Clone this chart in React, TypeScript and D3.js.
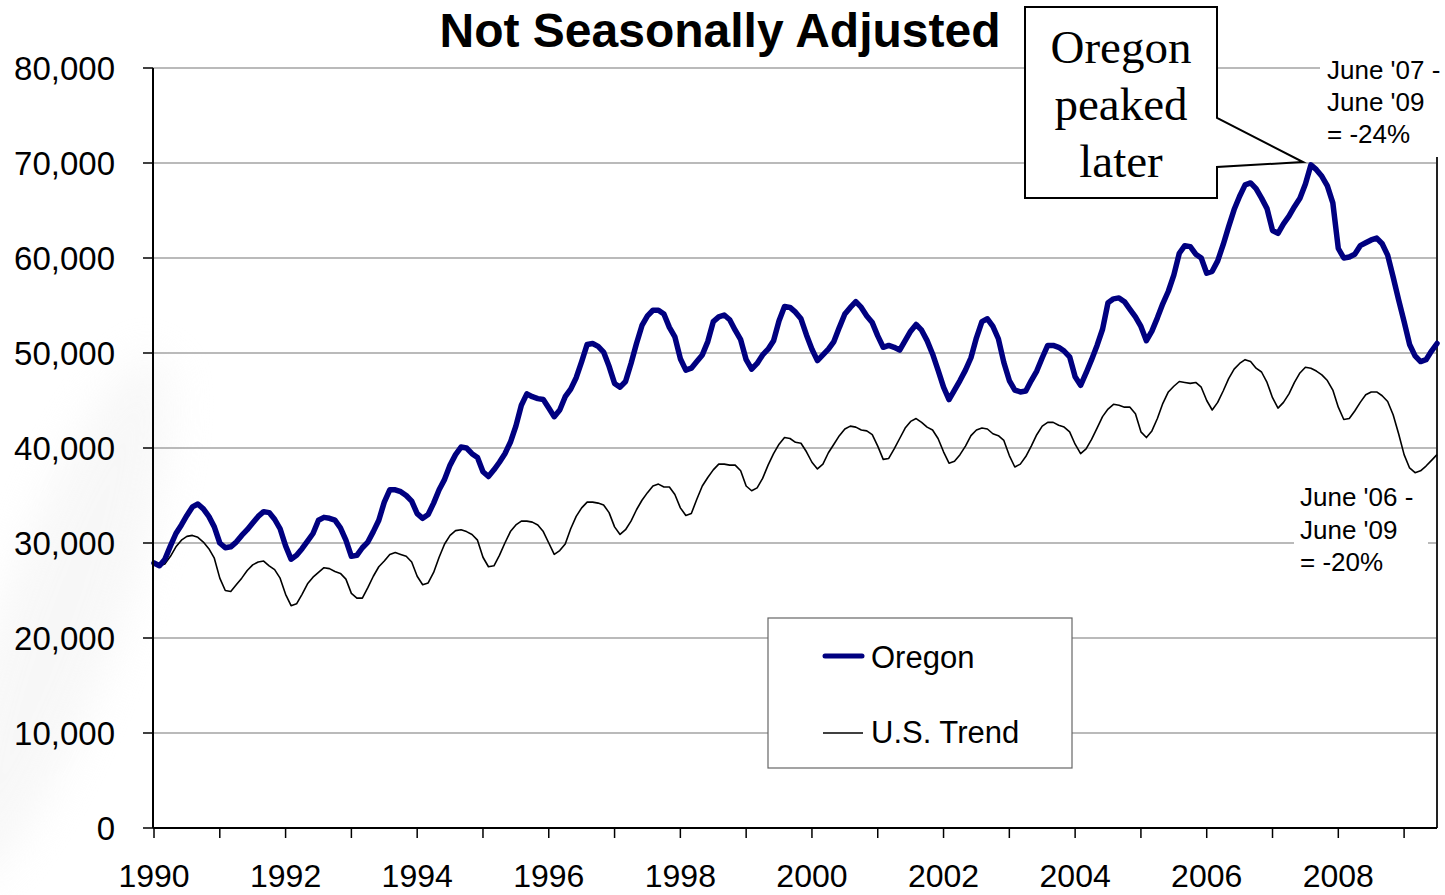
import React from "react";
import * as d3 from "d3";

// Monthly employment, thousands, Jan 1990 – Jul 2009
const oregon: number[] = [
  27.9, 27.6, 28.3, 29.7, 31.0, 31.9, 32.9, 33.8, 34.1, 33.6, 32.8, 31.7,
  30.0, 29.5, 29.6, 30.1, 30.8, 31.4, 32.1, 32.8, 33.3, 33.2, 32.5, 31.5,
  29.7, 28.3, 28.7, 29.4, 30.2, 31.0, 32.4, 32.7, 32.6, 32.4, 31.6, 30.3,
  28.6, 28.7, 29.5, 30.1, 31.2, 32.4, 34.3, 35.6, 35.6, 35.4, 35.0, 34.4,
  33.1, 32.6, 33.0, 34.2, 35.6, 36.7, 38.2, 39.3, 40.1, 40.0, 39.4, 39.0,
  37.5, 37.0, 37.7, 38.5, 39.4, 40.6, 42.3, 44.5, 45.7, 45.4, 45.2, 45.1,
  44.2, 43.3, 44.0, 45.4, 46.2, 47.4, 49.1, 50.9, 51.0, 50.7, 50.1, 48.6,
  46.8, 46.4, 47.0, 48.9, 51.0, 52.9, 53.9, 54.5, 54.5, 54.1, 52.7, 51.7,
  49.4, 48.2, 48.4, 49.1, 49.8, 51.2, 53.3, 53.8, 54.0, 53.5, 52.4, 51.4,
  49.3, 48.3, 48.9, 49.8, 50.4, 51.3, 53.4, 54.9, 54.8, 54.3, 53.6, 51.9,
  50.4, 49.2, 49.8, 50.4, 51.2, 52.7, 54.1, 54.8, 55.4, 54.8, 53.9, 53.2,
  51.8, 50.6, 50.8, 50.6, 50.3, 51.3, 52.3, 53.0, 52.4, 51.3, 49.9, 48.2,
  46.4, 45.1, 46.1, 47.1, 48.2, 49.5, 51.6, 53.3, 53.6, 52.8, 51.5, 49.0,
  47.1, 46.1, 45.9, 46.0, 47.1, 48.1, 49.5, 50.8, 50.8, 50.6, 50.2, 49.6,
  47.5, 46.6, 47.9, 49.3, 50.8, 52.5, 55.3, 55.7, 55.8, 55.4, 54.6, 53.8,
  52.8, 51.3, 52.3, 53.7, 55.2, 56.5, 58.2, 60.5, 61.3, 61.2, 60.4, 60.0,
  58.4, 58.6, 59.7, 61.4, 63.3, 65.1, 66.5, 67.7, 67.9, 67.3, 66.3, 65.2,
  62.9, 62.6, 63.6, 64.4, 65.4, 66.3, 67.8, 69.8, 69.3, 68.6, 67.6, 65.8,
  61.0, 60.0, 60.1, 60.4, 61.3, 61.6, 61.9, 62.1, 61.5, 60.3, 58.0, 55.6,
  53.3, 50.9, 49.7, 49.1, 49.3, 50.2, 51.0,
];

const usTrend: number[] = [
  27.9, 27.6, 27.8, 28.6, 29.6, 30.3, 30.7, 30.8, 30.6, 30.1, 29.4, 28.4,
  26.3, 25.0, 24.9, 25.6, 26.3, 27.1, 27.7, 28.0, 28.1, 27.6, 27.2, 26.3,
  24.6, 23.4, 23.6, 24.6, 25.7, 26.4, 26.9, 27.4, 27.3, 27.0, 26.8, 26.2,
  24.7, 24.2, 24.2, 25.3, 26.5, 27.5, 28.1, 28.8, 29.0, 28.8, 28.6, 28.0,
  26.5, 25.6, 25.8, 26.9, 28.5, 29.9, 30.8, 31.3, 31.4, 31.2, 30.9, 30.3,
  28.5, 27.5, 27.6, 28.7, 30.0, 31.2, 31.9, 32.3, 32.3, 32.2, 31.9, 31.2,
  30.0, 28.8, 29.2, 29.9, 31.5, 32.8, 33.7, 34.3, 34.3, 34.2, 34.0, 33.2,
  31.7, 30.9, 31.4, 32.3, 33.5, 34.5, 35.3, 36.0, 36.2, 35.9, 35.9, 35.1,
  33.7, 32.9, 33.1, 34.6, 36.0, 36.9, 37.7, 38.3, 38.3, 38.2, 38.2, 37.6,
  36.0, 35.5, 35.8, 36.8, 38.2, 39.4, 40.4, 41.1, 41.0, 40.6, 40.5, 39.6,
  38.5, 37.8, 38.3, 39.5, 40.4, 41.3, 42.0, 42.3, 42.2, 41.9, 41.8, 41.4,
  40.2, 38.8, 38.9, 39.9, 41.0, 42.1, 42.8, 43.1, 42.7, 42.2, 41.9, 41.0,
  39.6, 38.4, 38.6, 39.3, 40.2, 41.3, 41.9, 42.1, 42.0, 41.5, 41.3, 40.8,
  39.2, 38.0, 38.3, 39.1, 40.2, 41.4, 42.3, 42.7, 42.7, 42.4, 42.2, 41.7,
  40.4, 39.4, 39.9, 40.9, 42.1, 43.3, 44.1, 44.6, 44.5, 44.3, 44.3, 43.6,
  41.7, 41.1, 41.8, 43.1, 44.7, 45.9, 46.5, 47.0, 46.9, 46.8, 46.9, 46.4,
  45.0, 44.0, 44.8, 46.0, 47.3, 48.3, 48.9, 49.3, 49.1, 48.4, 48.0, 46.9,
  45.3, 44.2, 44.8, 45.7, 46.9, 47.9, 48.5, 48.4, 48.1, 47.7, 47.1, 46.1,
  44.3, 43.0, 43.1, 43.9, 44.8, 45.6, 45.9, 45.9, 45.5, 44.9, 43.5, 41.5,
  39.3, 37.9, 37.4, 37.6, 38.1, 38.7, 39.3,
];

const yTicks: number[] = [0, 10, 20, 30, 40, 50, 60, 70, 80];
const yearLabels: string[] = ["1990", "1992", "1994", "1996", "1998", "2000", "2002", "2004", "2006", "2008"];
const yearTicks: number[] = [1990, 1991, 1992, 1993, 1994, 1995, 1996, 1997, 1998, 1999, 2000, 2001, 2002, 2003, 2004, 2005, 2006, 2007, 2008, 2009];
const seriesNames: string[] = ["Oregon", "U.S. Trend"];
const calloutLines: string[] = ["Oregon", "peaked", "later"];
const noteOregon: string[] = ["June '07 -", "June '09", "= -24%"];
const noteUS: string[] = ["June '06 -", "June '09", "= -20%"];

const SANS = "'Liberation Sans', Arial, Helvetica, sans-serif";
const SERIF = "'Liberation Serif', 'Times New Roman', serif";

export default function App() {
  const left = 154, right = 1437, top = 68, bottom = 828;
  const x = d3.scaleLinear().domain([0, 234]).range([left, right]);
  const y = d3.scaleLinear().domain([0, 80]).range([bottom, top]);
  const line = d3
    .line<number>()
    .x((_, i) => x(i))
    .y((d) => y(d));
  const fmt = d3.format(",");
  const navy = "#000080";

  return (
    <svg
      width={1445}
      height={895}
      style={{ position: "absolute", left: 0, top: 0, background: "#fff" }}
    >
      <defs>
        <filter id="blur" x="-50%" y="-50%" width="200%" height="200%">
          <feGaussianBlur stdDeviation="20" />
        </filter>
      </defs>
      {/* faint background swoosh */}
      <ellipse
        cx={60}
        cy={620}
        rx={60}
        ry={280}
        transform="rotate(20 60 620)"
        fill="#efefef"
        opacity={0.45}
        filter="url(#blur)"
      />

      {/* gridlines */}
      {yTicks
        .filter((t) => t > 0)
        .map((t) => (
          <line key={t} x1={left - 1} x2={right} y1={y(t)} y2={y(t)} stroke="#777" strokeWidth={1.2} />
        ))}

      {/* right border */}
      <line x1={right} x2={right} y1={top} y2={bottom} stroke="#222" strokeWidth={2} />

      {/* series */}
      <path d={line(usTrend) || ""} fill="none" stroke="#000" strokeWidth={1.6} strokeLinejoin="round" />
      <path d={line(oregon) || ""} fill="none" stroke={navy} strokeWidth={5.5} strokeLinejoin="round" strokeLinecap="round" />

      {/* axes */}
      <line x1={left - 1} x2={left - 1} y1={top} y2={bottom} stroke="#000" strokeWidth={2} />
      <line x1={left - 1} x2={right} y1={bottom} y2={bottom} stroke="#000" strokeWidth={2} />
      {yTicks.map((t) => (
        <g key={t}>
          <line x1={left - 11} x2={left - 1} y1={y(t)} y2={y(t)} stroke="#000" strokeWidth={1.5} />
          <text x={115} y={y(t) + 11.5} textAnchor="end" fontFamily={SANS} fontSize={33} fill="#000">
            {fmt(t * 1000)}
          </text>
        </g>
      ))}
      {yearTicks.map((yr) => (
        <line
          key={yr}
          x1={x((yr - 1990) * 12)}
          x2={x((yr - 1990) * 12)}
          y1={bottom}
          y2={bottom + 10}
          stroke="#000"
          strokeWidth={1.5}
        />
      ))}
      {yearLabels.map((lab) => (
        <text
          key={lab}
          x={x((+lab - 1990) * 12)}
          y={887}
          textAnchor="middle"
          fontFamily={SANS}
          fontSize={32}
          fill="#000"
        >
          {lab}
        </text>
      ))}

      {/* title */}
      <text x={720} y={47} textAnchor="middle" fontFamily={SANS} fontWeight="bold" fontSize={48} fill="#000">
        Not Seasonally Adjusted
      </text>

      {/* callout */}
      <path
        d="M1025,7 H1217 V118 L1303,162 L1217,167 V198 H1025 Z"
        fill="#fff"
        stroke="#000"
        strokeWidth={2}
      />
      {calloutLines.map((s, i) => (
        <text key={s} x={1121} y={63 + i * 57} textAnchor="middle" fontFamily={SERIF} fontSize={47} fill="#000">
          {s}
        </text>
      ))}

      {/* notes */}
      <rect x={1320} y={52} width={125} height={105} fill="#fff" />
      {noteOregon.map((s, i) => (
        <text key={s} x={1327} y={79 + i * 32} fontFamily={SANS} fontSize={26} fill="#000">
          {s}
        </text>
      ))}
      <rect x={1294} y={484} width={134} height={98} fill="#fff" />
      {noteUS.map((s, i) => (
        <text key={s} x={1300} y={506 + i * 32.5} fontFamily={SANS} fontSize={26} fill="#000">
          {s}
        </text>
      ))}

      {/* legend */}
      <rect x={768} y={618} width={304} height={150} fill="#fff" stroke="#666" strokeWidth={1.2} />
      <line x1={825} x2={862} y1={656} y2={656} stroke={navy} strokeWidth={5} strokeLinecap="round" />
      <text x={871} y={668} fontFamily={SANS} fontSize={31} fill="#000">
        {seriesNames[0]}
      </text>
      <line x1={823} x2={863} y1={733} y2={733} stroke="#000" strokeWidth={1.6} />
      <text x={871} y={743} fontFamily={SANS} fontSize={31} fill="#000">
        {seriesNames[1]}
      </text>
    </svg>
  );
}
